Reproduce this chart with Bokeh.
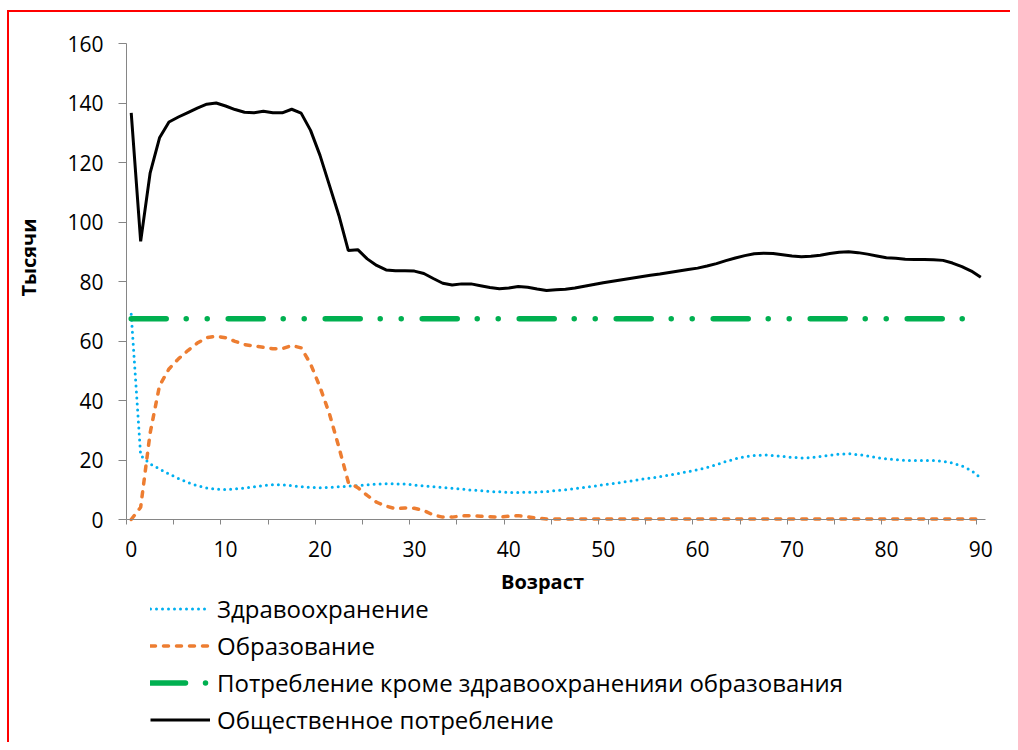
import math
from bokeh.plotting import figure
from bokeh.models import Range1d, FixedTicker, Legend, LegendItem, Label
from bokeh.embed import file_html
from bokeh.resources import INLINE

# ---------------- data ----------------
ages = list(range(0, 91))

health = [69.0, 21.5, 18.7, 17.0, 15.3, 13.8, 12.4, 11.4, 10.6, 10.2,
          10.1, 10.3, 10.6, 11.0, 11.4, 11.7, 11.7, 11.4, 11.0, 10.8,
          10.7, 10.8, 11.0, 11.2, 11.4, 11.7, 11.9, 12.0, 12.0, 11.9,
          11.6, 11.3, 11.0, 10.8, 10.5, 10.2, 9.9, 9.7, 9.4, 9.3,
          9.1, 9.1, 9.2, 9.2, 9.4, 9.7, 10.0, 10.4, 10.8, 11.2,
          11.7, 12.1, 12.5, 13.0, 13.5, 13.9, 14.4, 14.9, 15.5, 16.1,
          16.7, 17.5, 18.4, 19.5, 20.4, 21.1, 21.5, 21.7, 21.5, 21.2,
          20.9, 20.7, 20.8, 21.2, 21.6, 22.0, 22.1, 21.8, 21.4, 20.8,
          20.4, 20.1, 19.9, 19.8, 19.8, 19.8, 19.6, 19.0, 18.0, 16.5,
          14.0]

education = [0.0, 4.1, 29.0, 45.0, 50.6, 54.0, 56.8, 59.3, 61.1, 61.6,
             61.1, 59.9, 58.8, 58.3, 57.9, 57.4, 57.4, 58.5, 57.7, 52.3,
             44.5, 35.5, 24.3, 12.5, 10.7, 8.1, 5.8, 4.5, 3.6, 3.9,
             3.8, 3.0, 1.5, 0.8, 0.8, 1.2, 1.3, 1.1, 0.9, 0.8,
             1.1, 1.3, 0.9, 0.4, 0.2, 0.2, 0.2, 0.2, 0.2, 0.2,
             0.2, 0.2, 0.2, 0.2, 0.2, 0.2, 0.2, 0.2, 0.2, 0.2,
             0.2, 0.2, 0.2, 0.2, 0.2, 0.2, 0.2, 0.2, 0.2, 0.2,
             0.2, 0.2, 0.2, 0.2, 0.2, 0.2, 0.2, 0.2, 0.2, 0.2,
             0.2, 0.2, 0.2, 0.2, 0.2, 0.2, 0.2, 0.2, 0.2, 0.2,
             0.2]

other_level = 67.5
other = [other_level] * len(ages)

total = [136.7, 93.5, 116.4, 128.3, 133.6, 135.3, 136.8, 138.3, 139.6, 140.0,
         139.0, 137.8, 136.9, 136.7, 137.2, 136.7, 136.7, 137.9, 136.6, 130.8,
         122.4, 112.3, 102.2, 90.4, 90.7, 87.6, 85.4, 83.9, 83.6, 83.6,
         83.5, 82.7, 81.0, 79.4, 78.8, 79.2, 79.2, 78.6, 78.0, 77.6,
         77.8, 78.3, 78.1, 77.5, 77.0, 77.2, 77.4, 77.8, 78.4, 79.0,
         79.6, 80.1, 80.6, 81.1, 81.6, 82.1, 82.5, 83.0, 83.5, 84.0,
         84.5, 85.2, 86.0, 87.0, 87.9, 88.7, 89.3, 89.5, 89.4, 89.0,
         88.6, 88.3, 88.5, 88.8, 89.4, 89.8, 90.0, 89.7, 89.2, 88.6,
         88.0, 87.8, 87.5, 87.4, 87.4, 87.3, 87.1, 86.2, 85.0, 83.5,
         81.4]

x_label_ticks = [0, 10, 20, 30, 40, 50, 60, 70, 80, 90]
x_boundary_ticks = [-0.5, 4.5, 9.5, 14.5, 19.5, 24.5, 29.5, 34.5, 39.5, 44.5,
                    49.5, 54.5, 59.5, 64.5, 69.5, 74.5, 79.5, 84.5, 89.5]
y_ticks = [0, 20, 40, 60, 80, 100, 120, 140, 160]

labels = ["Здравоохранение", "Образование",
          "Потребление кроме здравоохраненияи образования",
          "Общественное потребление"]
x_title = "Возраст"
y_title = "Тысячи"

FONT = "Open Sans"
AXIS_COLOR = "#868686"

# ---------------- layout (pixels) ----------------
CANVAS_W, CANVAS_H = 1001, 730
PLOT_L, PLOT_R, PLOT_T, PLOT_B = 117, 976, 31, 507   # axes box inside canvas
X_LO, X_HI, Y_LO, Y_HI = -0.5, 90.5, 0, 160
px_x = (PLOT_R - PLOT_L) / (X_HI - X_LO)
px_y = (PLOT_B - PLOT_T) / (Y_HI - Y_LO)
x_start = X_LO - PLOT_L / px_x
x_end = X_HI + (CANVAS_W - PLOT_R) / px_x
y_end = Y_HI + PLOT_T / px_y
y_start = Y_HI - (CANVAS_H - PLOT_T) / px_y


def dx(px):   # canvas pixel -> data x
    return x_start + px / px_x


def dy(py):   # canvas pixel -> data y
    return y_end - py / px_y


p = figure(frame_width=CANVAS_W, frame_height=CANVAS_H,
           x_range=Range1d(x_start, x_end), y_range=Range1d(y_start, y_end),
           output_backend="svg", toolbar_location=None,
           min_border_left=0, min_border_right=0,
           min_border_top=0, min_border_bottom=0)
p.styles = {"border-left": "2px solid #ff0000",
            "border-top": "2px solid #ff0000",
            "margin-top": "10px",
            "margin-left": "7px"}
p.outline_line_color = None
p.xgrid.visible = False
p.ygrid.visible = False
p.background_fill_color = "white"
p.border_fill_color = "white"

xa = p.xaxis[0]
xa.fixed_location = 0
xa.bounds = (X_LO, X_HI)
xa.ticker = FixedTicker(ticks=x_label_ticks, minor_ticks=x_boundary_ticks)
xa.axis_line_color = AXIS_COLOR
xa.major_tick_out = 0
xa.major_tick_in = 0
xa.minor_tick_out = 5
xa.minor_tick_in = 0
xa.minor_tick_line_color = AXIS_COLOR
xa.major_label_standoff = 16
xa.major_label_text_font = FONT
xa.major_label_text_font_size = "21px"
xa.major_label_text_color = "#000000"

ya = p.yaxis[0]
ya.fixed_location = X_LO
ya.bounds = (Y_LO, Y_HI)
ya.ticker = FixedTicker(ticks=y_ticks)
ya.axis_line_color = AXIS_COLOR
ya.major_tick_line_color = AXIS_COLOR
ya.major_tick_out = 8
ya.major_tick_in = 0
ya.minor_tick_out = 0
ya.minor_tick_in = 0
ya.major_label_standoff = 15
ya.major_label_text_font = FONT
ya.major_label_text_font_size = "21px"
ya.major_label_text_color = "#000000"

r_h = p.line(ages, health, line_color="#00b0f0", line_width=3,
             line_dash="0 6", line_cap="round")
r_e = p.line(ages, education, line_color="#ed7d31", line_width=3.5,
             line_dash="5 8", line_cap="round")
r_o = p.line(ages, other, line_color="#00b050", line_width=5.5,
             line_dash="35 20 0 21 0 21", line_cap="round")
r_t = p.line(ages, total, line_color="#000000", line_width=3)

p.add_layout(Label(x=dx(19), y=dy(245), text=y_title, angle=math.pi / 2,
                   text_align="center", text_baseline="middle",
                   text_font=FONT, text_font_size="20px",
                   text_font_style="bold", text_color="#000000"))
p.add_layout(Label(x=dx(533), y=dy(569), text=x_title,
                   text_align="center", text_baseline="middle",
                   text_font=FONT, text_font_size="20px",
                   text_font_style="bold", text_color="#000000"))

legend = Legend(items=[LegendItem(label=labels[0], renderers=[r_h]),
                       LegendItem(label=labels[1], renderers=[r_e]),
                       LegendItem(label=labels[2], renderers=[r_o]),
                       LegendItem(label=labels[3], renderers=[r_t])],
                location=(141, 6), orientation="vertical",
                padding=0, margin=0, spacing=4,
                glyph_width=60, glyph_height=33, label_height=33,
                label_standoff=7, label_text_font=FONT,
                label_text_font_size="24px", label_text_color="#000000",
                label_text_baseline="middle",
                border_line_color=None, background_fill_alpha=0)
p.add_layout(legend)

open("out.html", "w").write(file_html(p, INLINE))
